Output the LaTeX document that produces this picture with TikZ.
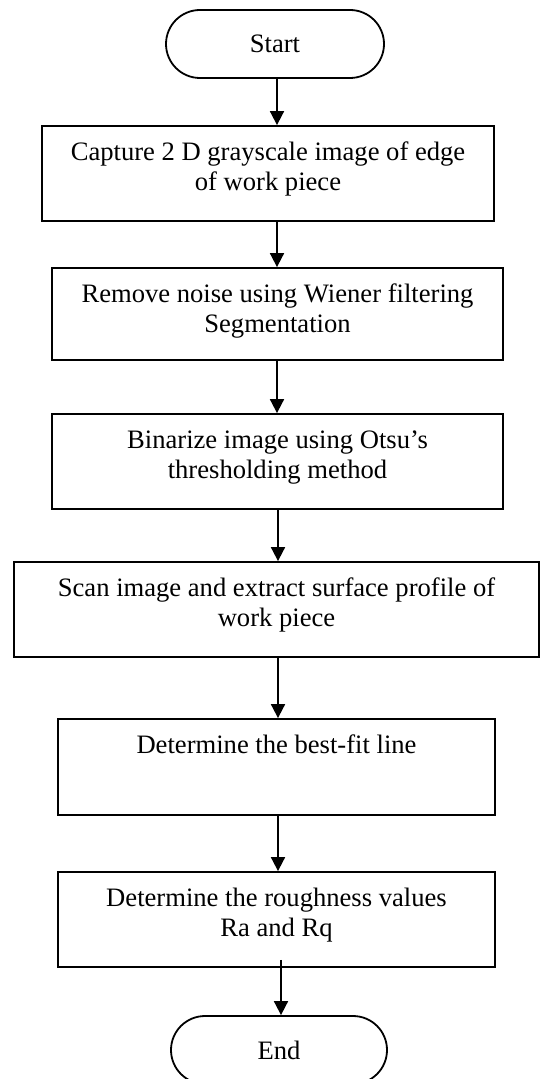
\documentclass[tikz,border=0pt]{standalone}
\usepackage{fontspec}
\setmainfont{Liberation Serif}
\usetikzlibrary{shapes.misc,arrows.meta}
\begin{document}
\begin{tikzpicture}[x=0.5pt,y=-0.5pt,
  line width=0.9pt,
  term/.style={draw, rounded rectangle, minimum width=109pt, minimum height=34pt, inner sep=0pt, font=\fontsize{13.3}{15.25}\selectfont},
  box/.style={draw, rectangle, inner sep=0pt},
  txt/.style={align=flush center, inner sep=0pt, font=\fontsize{13.3}{15.25}\selectfont, anchor=base},
  arr/.style={-{Triangle[width=7pt,length=7pt]}, line width=0.9pt}]
\useasboundingbox (0,0) rectangle (541,1079);
\node[term] (start) at (275,44) {Start};
\node[box, minimum width=226pt, minimum height=47.5pt] (b1) at (268,173.5) {};
\node[box, minimum width=225.5pt, minimum height=46pt] (b2) at (277.5,314) {};
\node[box, minimum width=225.5pt, minimum height=47.5pt] (b3) at (277.5,461.5) {};
\node[box, minimum width=262.5pt, minimum height=47.5pt] (b4) at (276.5,609.5) {};
\node[box, minimum width=218.5pt, minimum height=48pt] (b5) at (276.5,767) {};
\node[box, minimum width=218.5pt, minimum height=47.5pt] (b6) at (276.5,919.5) {};
\node[term, minimum width=108pt] (end) at (279,1050) {End};
\node[txt, text width=220pt] (t1) at ([yshift=-17.5pt]b1.north) {Capture 2 D grayscale image of edge\\of work piece};
\node[txt, text width=220pt] (t2) at ([yshift=-17.5pt]b2.north) {Remove noise using Wiener filtering\\Segmentation};
\node[txt, text width=220pt] (t3) at ([yshift=-17.5pt]b3.north) {Binarize image using Otsu’s\\thresholding method};
\node[txt, text width=255pt] (t4) at ([yshift=-17.5pt]b4.north) {Scan image and extract surface profile of\\work piece};
\node[txt, text width=210pt] (t5) at ([yshift=-17.5pt]b5.north) {Determine the best-fit line};
\node[txt, text width=210pt] (t6) at ([yshift=-17.5pt]b6.north) {Determine the roughness values\\Ra and Rq};
\coordinate (ax) at (277,0);
\coordinate (ay) at (278,0);
\coordinate (az) at (281,0);
\draw[arr] (start.south -| ax) -- (b1.north -| ax);
\draw[arr] (b1.south -| ax) -- (b2.north -| ax);
\draw[arr] (b2.south -| ax) -- (b3.north -| ax);
\draw[arr] (b3.south -| ay) -- (b4.north -| ay);
\draw[arr] (b4.south -| ay) -- (b5.north -| ay);
\draw[arr] (b5.south -| ay) -- (b6.north -| ay);
\draw[arr] ([yshift=4pt]b6.south -| az) -- (end.north -| az);
\end{tikzpicture}
\end{document}
